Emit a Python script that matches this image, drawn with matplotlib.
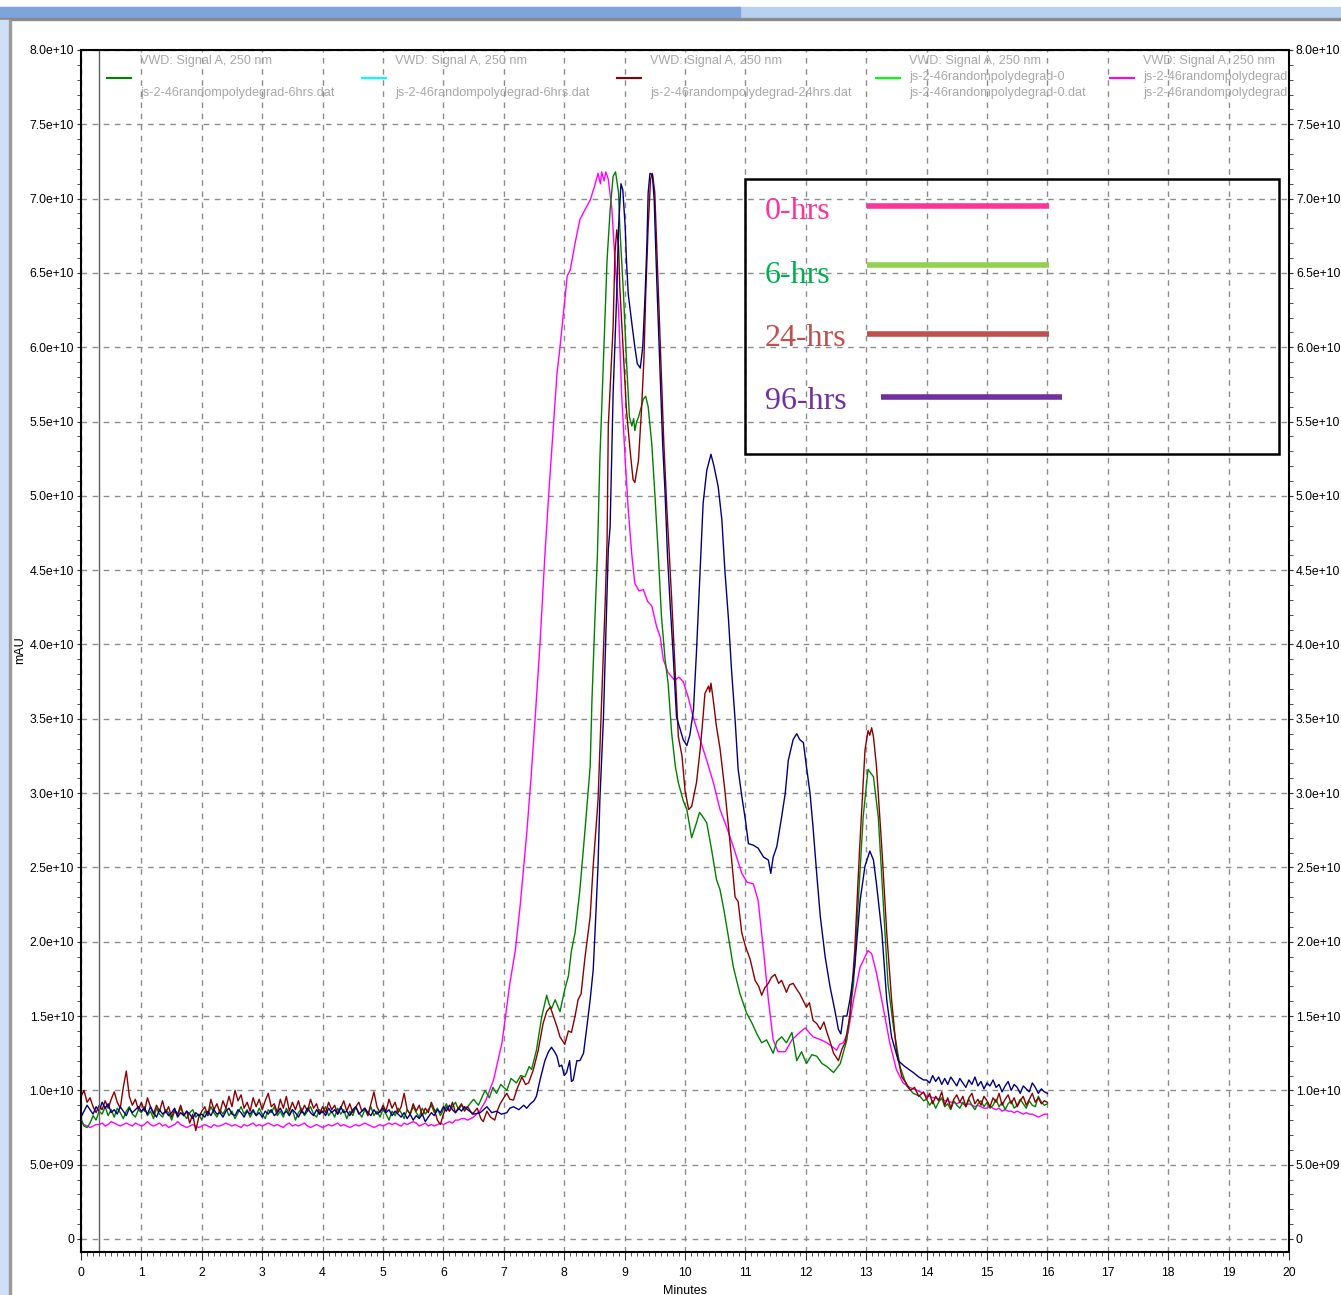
import matplotlib.pyplot as plt
import numpy as np
from matplotlib.patches import Rectangle
from matplotlib.ticker import MultipleLocator, FuncFormatter

W, H = 1341, 1295

# signal values in units of 1e9 (mAU)
# baseline 0 - 6.35 min, one value every 0.05 min
mag_base = [7.8, 7.7, 7.6, 7.5, 7.6, 7.7, 7.7, 7.8, 7.6, 7.7, 7.9, 7.8, 7.7, 7.6, 7.7, 7.8, 7.7, 7.6, 7.8, 7.7,
            7.6, 7.7, 7.9, 7.7, 7.6, 7.7, 7.8, 7.6, 7.7, 7.5, 7.6, 7.7, 7.9, 7.7, 7.6, 7.5, 7.6, 7.7, 7.6, 7.5,
            7.6, 7.7, 7.6, 7.5, 7.7, 7.6, 7.6, 7.7, 7.8, 7.7, 7.6, 7.7, 7.6, 7.5, 7.7, 7.6, 7.7, 7.8, 7.6, 7.7,
            7.6, 7.7, 7.8, 7.7, 7.6, 7.7, 7.6, 7.5, 7.7, 7.8, 7.6, 7.7, 7.6, 7.7, 7.8, 7.6, 7.5, 7.6, 7.7, 7.6,
            7.5, 7.6, 7.7, 7.6, 7.7, 7.8, 7.6, 7.7, 7.6, 7.5, 7.6, 7.7, 7.6, 7.7, 7.8, 7.7, 7.6, 7.5, 7.6, 7.7,
            7.6, 7.7, 7.8, 7.7, 7.8, 7.7, 7.6, 7.8, 7.7, 7.8, 7.9, 7.8, 7.6, 7.7, 7.8, 7.6, 7.7, 7.6, 7.7, 7.8,
            7.7, 7.8, 7.9, 7.8, 8.0, 8.0, 8.1, 8.1]
grn_base = [8.1, 7.6, 7.5, 7.8, 8.3, 8.0, 8.6, 8.4, 8.9, 8.3, 8.7, 8.2, 8.8, 8.5, 8.1, 8.6, 8.9, 8.4, 8.2, 8.7,
            8.5, 8.9, 8.3, 8.6, 8.1, 8.8, 8.4, 8.2, 8.7, 8.5, 8.0, 8.6, 8.3, 8.8, 8.4, 8.1, 8.5, 8.7, 8.2, 8.4,
            8.0, 8.6, 8.3, 8.9, 8.5, 8.2, 8.7, 8.4, 8.8, 8.3, 8.6, 8.1, 8.5, 8.9, 8.4, 8.7, 8.2, 8.6, 8.3, 8.8,
            8.4, 8.1, 8.7, 8.5, 8.9, 8.3, 8.6, 8.2, 8.8, 8.4, 8.7, 8.0, 8.5, 8.8, 8.3, 8.6, 8.9, 8.4, 8.2, 8.7,
            8.5, 8.9, 8.3, 8.6, 8.2, 8.8, 8.4, 8.7, 8.1, 8.6, 8.3, 8.9, 8.5, 8.2, 8.7, 8.4, 8.9, 8.3, 8.6, 8.2,
            8.7, 8.4, 8.0, 8.6, 8.3, 8.8, 8.5, 8.1, 8.7, 8.4, 8.9, 8.5, 8.2, 8.8, 8.4, 8.7, 9.0, 8.5, 8.8, 8.3,
            8.7, 9.1, 8.6, 8.9, 9.2, 8.7, 9.0, 8.8]
red_base = [9.6, 10.0, 9.2, 9.5, 8.9, 8.5, 9.0, 8.7, 9.3, 8.8, 9.4, 9.9, 9.2, 8.8, 10.2, 11.3, 9.6, 9.0, 9.4, 8.7,
            9.2, 8.6, 9.5, 8.9, 8.4, 9.0, 8.6, 9.3, 8.5, 8.9, 8.2, 8.7, 8.4, 9.0, 8.3, 8.6, 7.8, 8.4, 7.3, 8.2,
            8.6, 8.9, 8.3, 9.4, 8.7, 9.1, 8.5, 9.3, 8.8, 9.6, 8.9, 10.0, 9.3, 9.7, 8.8, 9.2, 8.6, 9.5, 8.9, 9.4,
            8.7, 9.3, 9.8, 8.9, 9.1, 8.5, 9.4, 8.8, 9.6, 8.6, 9.2, 8.7, 9.3, 8.5, 9.0, 8.6, 9.4, 8.8, 9.1, 8.4,
            8.9, 8.5, 9.2, 8.7, 9.0, 8.4, 8.8, 9.3, 8.6, 9.1, 8.5, 8.9, 9.2, 8.6, 8.8, 8.3, 9.1, 9.9, 8.9, 8.5,
            9.0, 8.6, 9.4, 8.8, 9.2, 8.5, 8.9, 9.8, 8.7, 8.4, 9.1, 8.6, 9.0, 8.3, 8.8, 8.5, 9.2, 8.7, 8.0, 7.7,
            8.4, 8.9, 8.6, 9.2, 8.5, 8.8, 9.1, 8.6]
blu_base = [8.2, 8.6, 9.0, 8.7, 8.4, 8.9, 8.6, 9.2, 8.8, 9.1, 8.5, 8.7, 8.4, 8.9, 8.6, 8.3, 8.8, 8.5, 8.7, 8.9,
            8.6, 8.8, 8.4, 8.9, 8.5, 8.2, 8.7, 8.4, 8.6, 8.3, 8.5, 8.8, 8.2, 8.5, 8.3, 8.6, 8.4, 8.1, 8.5, 8.3,
            8.4, 8.2, 8.6, 8.3, 8.7, 8.4, 8.5, 8.2, 8.6, 8.8, 8.4, 8.3, 8.7, 8.5, 8.2, 8.6, 8.4, 8.7, 8.3, 8.5,
            8.2, 8.6, 8.4, 8.7, 8.3, 8.5, 8.8, 8.4, 8.6, 8.3, 8.7, 8.5, 8.2, 8.6, 8.4, 8.8, 8.5, 8.3, 8.7, 8.4,
            8.6, 8.3, 8.8, 8.5, 8.7, 8.4, 8.9, 8.5, 8.6, 8.3, 8.7, 8.9, 8.4, 8.6, 8.8, 8.5, 8.3, 8.7, 8.4, 8.6,
            8.8, 8.5, 8.7, 8.3, 8.6, 8.4, 8.2, 8.5, 8.1, 8.4, 8.0, 8.3, 8.1, 8.4, 7.9, 8.2, 8.5, 8.3, 8.7, 8.5,
            8.9, 8.6, 9.0, 8.7, 8.5, 8.8, 8.6, 8.9]

# peak region 6.4 - 13.95 min, (minutes, value)
mag_peak = [(6.4, 8.0), (6.5, 8.2), (6.6, 8.6), (6.7, 9.3), (6.83, 10.7), (6.97, 13.2), (7.1, 17.2), (7.19, 19.4),
            (7.27, 22.4), (7.38, 27.3), (7.45, 31.0), (7.52, 35.1), (7.6, 40.1), (7.68, 46.0), (7.75, 50.5),
            (7.82, 54.7), (7.88, 58.2), (7.93, 60.0), (8.01, 63.2), (8.05, 64.8), (8.1, 65.2), (8.18, 67.0),
            (8.26, 68.6), (8.35, 69.3), (8.43, 69.9), (8.5, 70.8), (8.56, 71.7), (8.6, 71.0), (8.62, 71.8),
            (8.66, 71.2), (8.69, 71.8), (8.73, 71.3), (8.79, 69.3), (8.84, 65.9), (8.9, 62.5), (8.95, 56.9),
            (9.01, 52.4), (9.06, 49.1), (9.12, 46.0), (9.17, 44.1), (9.24, 43.6), (9.31, 43.7), (9.38, 42.9),
            (9.45, 42.6), (9.53, 41.2), (9.59, 40.5), (9.64, 39.0), (9.72, 38.1), (9.83, 37.6), (9.9, 37.8),
            (9.97, 37.5), (10.05, 36.5), (10.13, 35.2), (10.25, 33.6), (10.36, 32.2), (10.47, 30.7), (10.58, 28.9),
            (10.69, 27.7), (10.8, 26.4), (10.94, 24.6), (11.03, 24.0), (11.13, 23.9), (11.21, 22.8), (11.3, 19.4),
            (11.38, 16.1), (11.46, 13.4), (11.54, 12.6), (11.66, 12.6), (11.77, 13.4), (11.9, 13.9), (11.99, 14.2),
            (12.12, 13.6), (12.25, 13.4), (12.35, 13.2), (12.45, 12.9), (12.51, 12.7), (12.56, 13.1), (12.62, 13.2),
            (12.7, 13.9), (12.79, 16.1), (12.9, 18.3), (13.03, 19.4), (13.09, 19.2), (13.17, 17.9), (13.28, 15.6),
            (13.39, 13.2), (13.5, 11.4), (13.61, 10.5), (13.72, 10.2), (13.84, 10.0), (13.95, 9.8)]
grn_peak = [(6.4, 8.9), (6.5, 9.4), (6.58, 9.0), (6.69, 10.0), (6.76, 9.5), (6.82, 10.2), (6.88, 9.8), (6.95, 10.4),
            (7.05, 10.0), (7.12, 10.8), (7.21, 10.5), (7.28, 11.0), (7.35, 10.9), (7.42, 11.6), (7.46, 11.4),
            (7.54, 12.7), (7.63, 15.0), (7.71, 16.4), (7.75, 15.8), (7.79, 15.5), (7.85, 16.1), (7.93, 15.3),
            (8.01, 16.8), (8.07, 17.7), (8.12, 19.4), (8.18, 20.6), (8.26, 23.5), (8.34, 27.3), (8.43, 31.8),
            (8.46, 36.3), (8.51, 41.9), (8.55, 46.0), (8.59, 52.4), (8.65, 59.2), (8.71, 65.9), (8.76, 69.2),
            (8.81, 71.5), (8.85, 71.8), (8.9, 70.4), (8.92, 68.1), (8.98, 63.7), (9.03, 59.2), (9.08, 55.3),
            (9.12, 54.7), (9.15, 55.2), (9.17, 54.4), (9.2, 55.0), (9.23, 55.3), (9.31, 56.5), (9.35, 56.7),
            (9.39, 56.0), (9.45, 53.5), (9.5, 50.2), (9.56, 45.9), (9.61, 41.9), (9.67, 39.0), (9.72, 37.4),
            (9.78, 34.0), (9.84, 31.8), (9.89, 30.7), (9.97, 29.5), (10.03, 28.9), (10.11, 27.0), (10.19, 28.0),
            (10.24, 28.7), (10.28, 28.5), (10.36, 28.0), (10.44, 26.2), (10.52, 24.2), (10.58, 23.5), (10.65, 22.0),
            (10.72, 20.3), (10.8, 18.3), (10.91, 16.5), (11.02, 15.2), (11.1, 14.6), (11.19, 13.8), (11.27, 13.2),
            (11.35, 13.4), (11.46, 12.5), (11.52, 13.3), (11.6, 13.6), (11.68, 13.2), (11.77, 13.9), (11.85, 12.0),
            (11.93, 12.6), (12.01, 11.8), (12.1, 12.4), (12.18, 12.3), (12.27, 11.8), (12.35, 11.6), (12.46, 11.2),
            (12.57, 11.8), (12.68, 13.4), (12.79, 17.2), (12.87, 22.8), (12.95, 28.4), (13.03, 31.6), (13.12, 31.1),
            (13.2, 28.4), (13.28, 22.8), (13.36, 17.2), (13.45, 14.3), (13.56, 11.6), (13.67, 10.3), (13.78, 9.8),
            (13.89, 9.6), (13.95, 9.3)]
red_peak = [(6.4, 8.9), (6.48, 8.4), (6.56, 8.8), (6.62, 8.1), (6.66, 7.9), (6.72, 8.6), (6.78, 8.2), (6.85, 8.0),
            (6.9, 8.7), (6.94, 9.1), (7.0, 9.5), (7.05, 9.8), (7.1, 9.4), (7.16, 9.35), (7.22, 10.1), (7.3, 10.9),
            (7.36, 10.4), (7.41, 10.5), (7.49, 11.4), (7.57, 12.7), (7.65, 14.5), (7.71, 15.3), (7.77, 15.6),
            (7.82, 15.0), (7.88, 14.3), (7.93, 13.6), (8.01, 13.1), (8.07, 14.0), (8.12, 13.9), (8.18, 15.0),
            (8.23, 16.1), (8.28, 16.5), (8.34, 18.8), (8.43, 21.7), (8.48, 25.1), (8.56, 29.5), (8.62, 36.3),
            (8.68, 43.0), (8.71, 47.0), (8.73, 54.7), (8.77, 58.0), (8.81, 61.4), (8.84, 66.3), (8.87, 67.9),
            (8.9, 66.8), (8.92, 64.1), (8.98, 59.6), (9.03, 55.8), (9.09, 53.1), (9.14, 51.1), (9.17, 50.9),
            (9.23, 52.4), (9.28, 55.8), (9.32, 59.2), (9.35, 63.6), (9.39, 68.1), (9.43, 71.3), (9.46, 71.7),
            (9.5, 70.4), (9.53, 67.0), (9.57, 62.5), (9.61, 58.0), (9.65, 53.5), (9.7, 49.1), (9.74, 46.0),
            (9.78, 43.0), (9.82, 39.6), (9.86, 36.3), (9.89, 33.8), (9.95, 32.5), (10.0, 30.2), (10.06, 28.9),
            (10.11, 29.1), (10.19, 30.7), (10.25, 32.9), (10.29, 34.7), (10.33, 36.7), (10.39, 37.2), (10.41, 36.8),
            (10.43, 37.4), (10.47, 36.2), (10.52, 34.5), (10.58, 33.0), (10.66, 30.2), (10.74, 26.9), (10.83, 23.0),
            (10.88, 22.7), (10.94, 20.6), (11.0, 19.7), (11.08, 18.8), (11.16, 17.4), (11.22, 17.0), (11.27, 16.4),
            (11.32, 16.9), (11.38, 17.2), (11.43, 17.6), (11.49, 17.8), (11.55, 17.2), (11.6, 17.4), (11.68, 16.6),
            (11.73, 17.1), (11.79, 17.2), (11.85, 16.8), (11.9, 16.5), (12.01, 15.6), (12.06, 15.9), (12.12, 14.7),
            (12.18, 14.5), (12.24, 14.1), (12.3, 14.6), (12.35, 13.9), (12.4, 13.3), (12.46, 12.5), (12.54, 12.0),
            (12.6, 12.8), (12.65, 13.2), (12.73, 15.0), (12.81, 19.4), (12.89, 26.2), (12.98, 32.9), (13.03, 34.2),
            (13.06, 33.9), (13.09, 34.4), (13.12, 33.8), (13.17, 31.8), (13.26, 26.2), (13.34, 20.6), (13.42, 16.1),
            (13.5, 12.7), (13.59, 10.9), (13.66, 10.5), (13.73, 10.0), (13.8, 10.2), (13.87, 9.6), (13.95, 9.9)]
blu_peak = [(6.4, 8.7), (6.5, 8.4), (6.61, 8.5), (6.72, 8.9), (6.8, 8.5), (6.88, 8.6), (6.96, 8.4), (7.05, 8.5),
            (7.1, 8.8), (7.16, 8.9), (7.25, 8.7), (7.33, 9.0), (7.38, 8.8), (7.44, 9.1), (7.5, 9.3), (7.54, 9.6),
            (7.6, 10.7), (7.68, 12.0), (7.74, 12.6), (7.79, 12.9), (7.84, 12.6), (7.88, 12.3), (7.92, 11.6),
            (7.96, 11.7), (8.0, 11.0), (8.04, 11.2), (8.09, 12.0), (8.12, 10.6), (8.15, 10.7), (8.21, 12.0),
            (8.26, 12.0), (8.32, 12.5), (8.37, 14.1), (8.43, 16.1), (8.48, 18.1), (8.51, 20.6), (8.56, 25.1),
            (8.59, 29.5), (8.65, 35.1), (8.69, 40.8), (8.73, 46.4), (8.76, 47.9), (8.81, 56.9), (8.87, 63.6),
            (8.9, 68.1), (8.94, 71.0), (8.97, 70.6), (9.01, 68.1), (9.03, 65.9), (9.06, 63.6), (9.12, 61.6),
            (9.17, 60.0), (9.21, 58.9), (9.26, 58.6), (9.3, 60.0), (9.34, 63.6), (9.37, 67.0), (9.39, 70.4),
            (9.42, 71.7), (9.46, 71.6), (9.49, 69.9), (9.53, 64.8), (9.56, 61.4), (9.59, 58.0), (9.63, 53.5),
            (9.67, 50.2), (9.71, 46.0), (9.75, 43.0), (9.8, 39.6), (9.83, 37.4), (9.86, 35.1), (9.92, 34.3),
            (9.97, 33.6), (10.03, 33.2), (10.08, 33.9), (10.14, 35.6), (10.19, 39.5), (10.25, 45.0), (10.3, 49.5),
            (10.36, 51.7), (10.43, 52.8), (10.48, 52.0), (10.55, 50.6), (10.61, 48.4), (10.66, 45.0), (10.72, 41.7),
            (10.77, 38.3), (10.83, 34.9), (10.88, 31.6), (10.94, 29.8), (11.0, 28.2), (11.05, 26.6), (11.13, 26.5),
            (11.21, 26.3), (11.3, 25.7), (11.38, 25.5), (11.42, 24.6), (11.46, 25.7), (11.52, 26.4), (11.6, 28.4),
            (11.66, 30.0), (11.71, 32.2), (11.79, 33.6), (11.85, 34.0), (11.9, 33.6), (11.96, 33.4), (12.01, 31.8),
            (12.07, 30.0), (12.12, 27.7), (12.18, 24.6), (12.24, 21.7), (12.32, 19.0), (12.4, 17.0), (12.48, 15.4),
            (12.54, 14.1), (12.58, 13.8), (12.62, 15.0), (12.68, 15.0), (12.73, 16.1), (12.81, 18.3), (12.9, 22.8),
            (12.98, 25.1), (13.06, 26.1), (13.12, 25.5), (13.17, 23.9), (13.26, 20.6), (13.34, 16.1), (13.42, 13.6),
            (13.53, 12.0), (13.64, 11.6), (13.78, 11.2), (13.87, 10.9), (13.95, 10.7)]

# tail 14.0 - 16.0 min, one value every 0.05 min
mag_tail = [9.6, 9.6, 9.5, 9.5, 9.4, 9.4, 9.3, 9.3, 9.2, 9.2, 9.1, 9.2, 9.1, 9.0, 9.1, 9.0, 8.9, 9.0, 8.9, 8.8,
            8.8, 8.9, 8.8, 8.7, 8.8, 8.6, 8.7, 8.6, 8.6, 8.5, 8.6, 8.5, 8.4, 8.5, 8.4, 8.4, 8.3, 8.2, 8.3, 8.4, 8.4]
grn_tail = [9.4, 9.0, 9.3, 8.8, 9.2, 9.5, 8.9, 9.1, 8.7, 9.3, 9.0, 8.8, 9.2, 8.9, 9.4, 9.0, 8.7, 9.1, 9.3, 8.9,
            9.2, 8.8, 9.0, 9.4, 8.9, 9.2, 8.7, 9.1, 9.3, 8.8, 9.0, 9.4, 9.1, 8.8, 9.3, 9.0, 8.9, 9.6, 9.2, 9.0, 9.1]
red_tail = [9.4, 9.8, 9.1, 9.6, 9.3, 9.9, 9.0, 9.5, 8.8, 9.4, 9.7, 9.2, 9.6, 8.9, 9.5, 9.8, 9.1, 9.4, 9.0, 9.6,
            9.3, 8.9, 9.5, 9.2, 9.8, 9.0, 9.4, 9.7, 9.1, 9.5, 8.9, 9.3, 9.6, 9.0, 9.4, 9.8, 9.2, 9.5, 9.1, 9.3, 9.2]
blu_tail = [10.7, 10.5, 11.0, 10.6, 10.9, 10.4, 10.8, 10.4, 10.9, 10.6, 10.3, 10.8, 10.5, 10.2, 10.7, 10.4, 10.9,
            10.3, 10.6, 10.1, 10.5, 10.3, 10.7, 10.2, 10.4, 9.9, 10.3, 10.6, 10.0, 10.4, 10.2, 9.8, 10.3, 10.1, 9.9,
            10.5, 10.2, 9.8, 10.1, 9.9, 9.8]

legend_names = ["0-hrs", "6-hrs", "24-hrs", "96-hrs"]


def series(base, peak, tail):
    t = np.concatenate([np.linspace(0, 6.35, len(base)), [p[0] for p in peak],
                        np.linspace(14.0, 16.0, len(tail))])
    v = np.concatenate([base, [p[1] for p in peak], tail])
    return t, v * 1e9


plt.rcParams['font.family'] = ['Liberation Sans Narrow', 'Liberation Sans', 'DejaVu Sans']

fig = plt.figure(figsize=(W / 100, H / 100), dpi=100)

# window chrome
fig.patches.append(Rectangle((0, 1 - 18 / H), 1, 11 / H, transform=fig.transFigure, color='#b9d1f1', zorder=0))
fig.patches.append(Rectangle((0, 1 - 17 / H), 740 / W, 10 / H, transform=fig.transFigure, color='#7ea4dc', zorder=0))
fig.patches.append(Rectangle((0, 1 - 20 / H), 1, 2 / H, transform=fig.transFigure, color='#8a8a8a', zorder=0))
fig.patches.append(Rectangle((0, 0), 9 / W, 1 - 20 / H, transform=fig.transFigure, color='#cfe0f6', zorder=0))
fig.patches.append(Rectangle((9 / W, 0), 2 / W, 1 - 20 / H, transform=fig.transFigure, color='#9a9a9a', zorder=0))

ax = fig.add_axes([81 / W, 1 - 1252 / H, (1289 - 81) / W, (1252 - 50) / H])

for (b, p, tl), c in [((mag_base, mag_peak, mag_tail), '#ff00ff'),
                      ((grn_base, grn_peak, grn_tail), '#008000'),
                      ((red_base, red_peak, red_tail), '#8b0000'),
                      ((blu_base, blu_peak, blu_tail), '#000080')]:
    t, v = series(b, p, tl)
    ax.plot(t, v, color=c, lw=1.0)

ax.axvline(0.3, color='#606060', lw=1.0)

ax.set_xlim(0, 20)
ax.set_ylim(-0.0875e10, 8.0e10)
ax.xaxis.set_major_locator(MultipleLocator(1))
ax.xaxis.set_minor_locator(MultipleLocator(0.1))
ax.yaxis.set_major_locator(MultipleLocator(5e9))
ax.yaxis.set_minor_locator(MultipleLocator(1e9))
ax.yaxis.set_major_formatter(FuncFormatter(lambda v, pos: '0' if v == 0 else '%.1e' % v))
ax.tick_params(axis='both', which='both', direction='out', labelsize=8.8, color='#333333')
ax.tick_params(axis='y', which='both', left=True, right=True, labelleft=True, labelright=True, pad=2, length=3)
ax.tick_params(axis='x', which='major', length=6, pad=5)
ax.tick_params(axis='x', which='minor', length=3)
ax.grid(which='major', color='#8c8c8c', ls=(0, (4, 4)), lw=1.0)
ax.set_axisbelow(True)
for s in ax.spines.values():
    s.set_linewidth(1.5)

fig.text(20 / W, 1 - 650 / H, 'mAU', rotation=90, ha='center', va='center', fontsize=9)
fig.text(685 / W, 1 - 1291 / H, 'Minutes', ha='center', va='center', fontsize=9)

# instrument legend along the top
gray = '#a8a8a8'
top_entries = [(107, '#008000', ["VWD: Signal A, 250 nm", None, "js-2-46randompolydegrad-6hrs.dat"]),
               (362, '#00ffff', ["VWD: Signal A, 250 nm", None, "js-2-46randompolydegrad-6hrs.dat"]),
               (617, '#8b0000', ["VWD: Signal A, 250 nm", None, "js-2-46randompolydegrad-24hrs.dat"]),
               (876, '#00ff00', ["VWD: Signal A, 250 nm", "js-2-46randompolydegrad-0", "js-2-46randompolydegrad-0.dat"]),
               (1110, '#ff00ff', ["VWD: Signal A, 250 nm", "js-2-46randompolydegrad", "js-2-46randompolydegrad"])]
for x0, c, lines in top_entries:
    fig.lines.append(plt.Line2D([x0 / W, (x0 + 24) / W], [1 - 78 / H] * 2, transform=fig.transFigure, color=c, lw=1.5))
    for txt, y in zip(lines, [61, 77, 93]):
        if txt:
            tx = fig.text((x0 + 33) / W, 1 - y / H, txt, color=gray, fontsize=9.1, va='center', ha='left')
            tx.set_clip_path(ax.patch)

# inset legend box
fig.patches.append(Rectangle((745 / W, 1 - 454 / H), (1279 - 745) / W, (454 - 179) / H, transform=fig.transFigure,
                             fill=False, ec='black', lw=1.8, zorder=5))
text_cols = ['#ff3399', '#00b050', '#c0504d', '#7030a0']
line_cols = ['#ff3399', '#92d050', '#c0504d', '#7030a0']
text_base = [219, 283, 346, 409]
line_y = [206, 265, 334, 397]
line_x = [(867, 1049), (867, 1049), (867, 1049), (881, 1062)]
for name, tc, lc, ty, ly, (xa, xb) in zip(legend_names, text_cols, line_cols, text_base, line_y, line_x):
    fig.text(765 / W, 1 - ty / H, name, color=tc, fontsize=23, family='Liberation Serif', va='baseline', ha='left')
    fig.lines.append(plt.Line2D([xa / W, xb / W], [1 - ly / H] * 2, transform=fig.transFigure, color=lc, lw=4,
                                solid_capstyle='butt'))

fig.savefig('out.png', dpi=100)
